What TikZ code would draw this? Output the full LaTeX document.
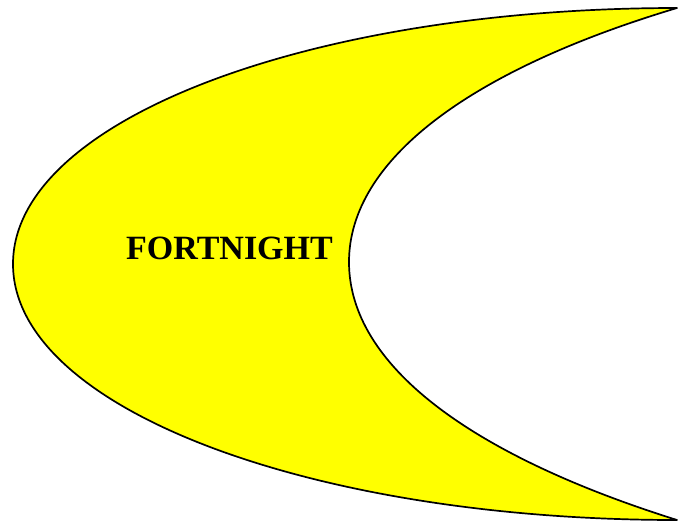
\documentclass[tikz,border=0pt]{standalone}
\usepackage{fontspec}
\setmainfont{Liberation Serif}
\definecolor{cyel}{RGB}{255,255,0}
\begin{document}
\begin{tikzpicture}[x=1pt,y=-1pt,
  crescent/.style={draw=black,line width=1.7pt,fill=cyel,line join=round},
  label/.style={font=\fontsize{34}{40}\selectfont\bfseries,text=black,inner sep=0pt,anchor=base}]
\useasboundingbox (0,0) rectangle (679,525);
\coordinate (top) at (677,8);
\coordinate (bot) at (677,520);
\coordinate (outer) at (13,264);
\coordinate (inner) at (349,262);
\path[crescent] (top) .. controls (310,8) and (13,120) .. (outer)
  .. controls (13,408) and (310,520) .. (bot)
  .. controls (470,455) and (349,365) .. (inner)
  .. controls (349,160) and (470,70) .. (top) -- cycle;
\node[label] (t) at (229.5,259) {FORTNIGHT};
\end{tikzpicture}
\end{document}
